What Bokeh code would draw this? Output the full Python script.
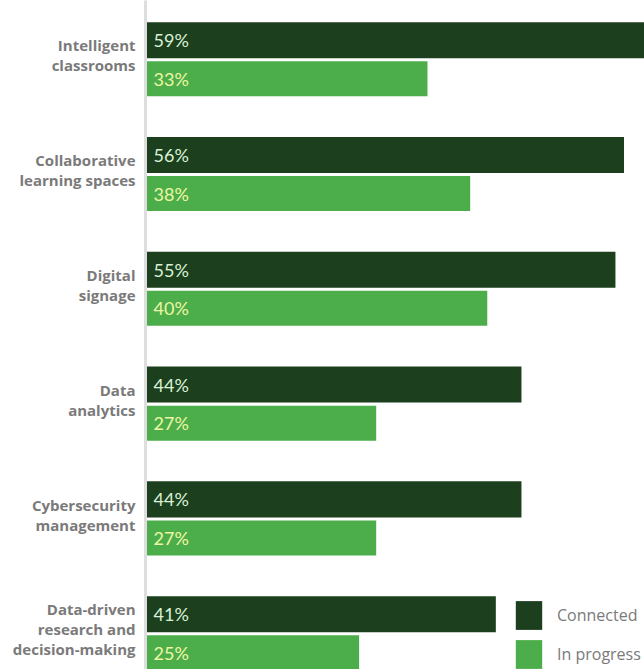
from bokeh.plotting import figure
from bokeh.models import ColumnDataSource, Range1d, FixedTicker, Legend, LegendItem
from bokeh.core.properties import value
from bokeh.embed import file_html
from bokeh.resources import INLINE

categories = ["Intelligent\nclassrooms", "Collaborative\nlearning spaces", "Digital\nsignage",
              "Data\nanalytics", "Cybersecurity\nmanagement", "Data-driven\nresearch and\ndecision-making"]
connected = [59, 56, 55, 44, 44, 41]
in_progress = [33, 38, 40, 27, 27, 25]
series_names = ["Connected", "In progress"]

DARK = "#1c3f1e"
LIGHT = "#4cae4a"

idx = list(range(len(categories)))
off = 0.168
src_c = ColumnDataSource(dict(y=[i - off for i in idx], v=connected, t=[f"{v}%" for v in connected]))
src_p = ColumnDataSource(dict(y=[i + off for i in idx], v=in_progress, t=[f"{v}%" for v in in_progress]))

p = figure(width=644, height=669, output_backend="svg", toolbar_location=None,
           x_range=Range1d(0, 58.4), y_range=Range1d(5.314, -0.514),
           min_border_left=145, min_border_right=0, min_border_top=0, min_border_bottom=0,
           x_axis_location=None)
p.outline_line_color = None
p.xgrid.visible = False
p.ygrid.visible = False

r1 = p.hbar(y="y", right="v", left=0, height=0.314, source=src_c, fill_color=DARK, line_color=None)
r2 = p.hbar(y="y", right="v", left=0, height=0.305, source=src_p, fill_color=LIGHT, line_color=None)

p.text(x=0, y="y", text="t", source=src_c, x_offset=8, text_baseline="middle",
       text_font=value("Lato"), text_font_size="18px", text_color="#d9f2d6")
p.text(x=0, y="y", text="t", source=src_p, x_offset=8, text_baseline="middle",
       text_font=value("Lato"), text_font_size="18px", text_color="#eef6a4")

ax = p.yaxis[0]
ax.ticker = FixedTicker(ticks=[i - 0.035 for i in idx])
ax.major_label_overrides = {i - 0.035: c for i, c in zip(idx, categories)}
ax.major_tick_line_color = None
ax.minor_tick_line_color = None
ax.axis_line_color = "#dedede"
ax.axis_line_width = 3
ax.major_label_standoff = 4
ax.major_label_text_font = "Open Sans"
ax.major_label_text_font_style = "bold"
ax.major_label_text_font_size = "15px"
ax.major_label_text_color = "#7a7a7a"
ax.major_label_text_line_height = 1.0

legend = Legend(items=[LegendItem(label=series_names[0], renderers=[r1]),
                       LegendItem(label=series_names[1], renderers=[r2])],
                location=(367, -3), orientation="vertical",
                glyph_width=33, glyph_height=36, spacing=3, padding=0, margin=0,
                label_standoff=12, label_text_font="Open Sans", label_text_font_size="16px",
                label_text_color="#7a7a7a", border_line_color=None, background_fill_alpha=0)
p.add_layout(legend, "center")

open("out.html", "w").write(file_html(p, INLINE))
